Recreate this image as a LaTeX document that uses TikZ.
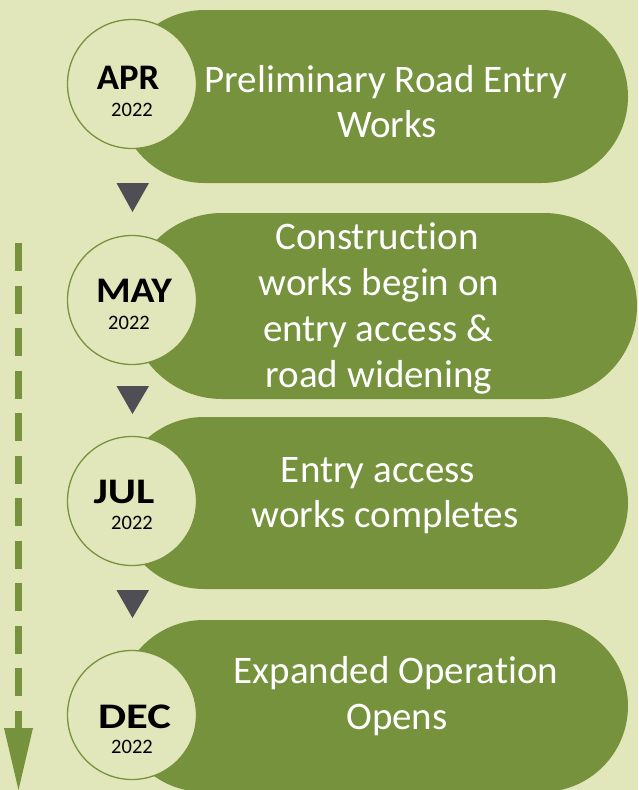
\documentclass[tikz,border=0pt]{standalone}
\usepackage{fontspec}
\setmainfont{Carlito}[Ligatures=NoCommon]
\definecolor{bgc}{HTML}{E2E7BB}
\definecolor{olive}{HTML}{76923C}
\definecolor{darkmark}{HTML}{4E4E54}
\tikzset{
  pill/.style={fill=olive, inner sep=0pt, draw=none},
  datecirc/.style={circle, fill=bgc, draw=olive, line width=1.3pt, minimum size=129pt, inner sep=0pt},
  pilltext/.style={anchor=base, inner sep=0pt, text=white, font=\fontsize{39}{46}\selectfont},
  monthtext/.style={anchor=base, inner sep=0pt, text=black, font=\fontsize{36}{40}\selectfont\bfseries, transform shape},
  yeartext/.style={anchor=base, inner sep=0pt, text=black, font=\fontsize{20.5}{24}\selectfont},
  marker/.style={fill=darkmark},
  timeline/.style={draw=olive, line width=6.5pt, dash pattern=on 28pt off 14.5pt}
}
\begin{document}
\begin{tikzpicture}[x=1pt, y=-1pt]
\fill[bgc] (0,0) rectangle (638,790);
\useasboundingbox (0,0) rectangle (638,790);

% pills
\node[pill, minimum width=510pt, minimum height=173pt, rounded corners=86.5pt] (pill1) at (373,96.5) {};
\node[pill, minimum width=508pt, minimum height=186pt, rounded corners=93pt] (pill2) at (383,306) {};
\node[pill, minimum width=510pt, minimum height=172pt, rounded corners=86pt] (pill3) at (373,503) {};
\node[pill, minimum width=510pt, minimum height=172pt, rounded corners=86pt] (pill4) at (373,706) {};

% pill texts
\node[pilltext] (t1a) at (386,92) {Preliminary Road Entry};
\node[pilltext] (t1b) at (387,137) {Works};
\node[pilltext] (t2a) at (377,249) {Construction};
\node[pilltext] (t2b) at (379,295) {works begin on};
\node[pilltext] (t2c) at (378,341) {entry access \&};
\node[pilltext] (t2d) at (379,387) {road widening};
\node[pilltext] (t3a) at (378,482) {Entry access};
\node[pilltext] (t3b) at (385,527) {works completes};
\node[pilltext] (t4a) at (396,683) {Expanded Operation};
\node[pilltext] (t4b) at (397,729) {Opens};

% date circles
\node[datecirc] (c1) at (132,84) {};
\node[datecirc] (c2) at (132,300) {};
\node[datecirc] (c3) at (132,501) {};
\node[datecirc] (c4) at (132,715) {};

\node[monthtext, xscale=1.02] (m1) at (128,89) {APR};
\node[yeartext] (y1) at (132,116) {2022};
\node[monthtext, xscale=1.1] (m2) at (134,302) {MAY};
\node[yeartext] (y2) at (129,329) {2022};
\node[monthtext, xscale=1.2] (m3) at (124,503) {JUL};
\node[yeartext] (y3) at (132,529) {2022};
\node[monthtext, xscale=1.24] (m4) at (134.5,728) {DEC};
\node[yeartext] (y4) at (132,753) {2022};

% down markers
\fill[marker] (116.5,183) -- (149,183) -- (132.5,212) -- cycle;
\fill[marker] (116.5,386) -- (149,386) -- (132.5,414) -- cycle;
\fill[marker] (116.5,590) -- (149,590) -- (132.5,618) -- cycle;

% dashed timeline arrow
\coordinate (tlstart) at (18.5,243);
\coordinate (tlshaft) at (18.5,728);
\coordinate (tltip) at (18.5,790);
\draw[timeline] (tlstart) -- (tlshaft);
\fill[olive] ([xshift=-14.5pt]tlshaft) -- ([xshift=14.5pt]tlshaft) -- (tltip) -- cycle;
\end{tikzpicture}
\end{document}
